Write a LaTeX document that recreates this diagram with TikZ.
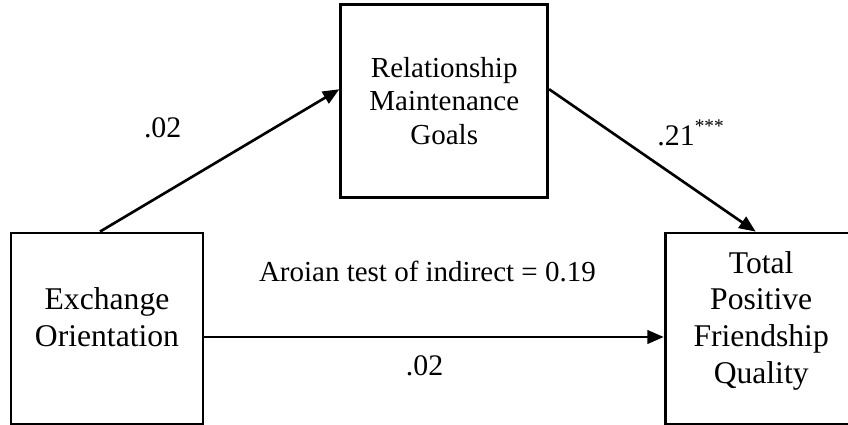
\documentclass[tikz,border=0pt]{standalone}
\usepackage{fontspec}
\setmainfont{Liberation Serif}
\usetikzlibrary{positioning, arrows.meta, calc}

\begin{document}
\begin{tikzpicture}[x=0.02cm, y=-0.02cm, >={Triangle[length=0.33cm, width=0.27cm]},
  box/.style={draw, line width=1.6pt, align=center, inner sep=0pt},
  sidebox/.style={box, minimum width=3.84cm, minimum height=3.82cm, text depth=0.45cm, font=\fontsize{18}{20.9}\selectfont},
  midbox/.style={box, minimum width=4.14cm, minimum height=3.86cm, font=\fontsize{16.5}{19}\selectfont},
  lbl/.style={anchor=base, inner sep=0pt, font=\fontsize{17}{20}\selectfont},
  arr/.style={->, line width=1.5pt}]
  \useasboundingbox (0,0) rectangle (848,425);

  \node[sidebox] (exch) at (107,328.5) {Exchange\\Orientation};
  \node[midbox, above right=0.66cm and 2.7cm of exch] (rel) {Relationship\\Maintenance\\Goals};
  \node[sidebox, right=9.19cm of exch] (fpq) {Total\\Positive\\Friendship\\Quality};

  \draw[arr] ([xshift=-0.14cm]exch.north) -- node[lbl, xshift=-1.14cm, yshift=0.45cm] {.02} ([yshift=0.23cm]rel.west);
  \draw[arr] ([yshift=0.23cm]rel.east) -- node[lbl, anchor=base west, xshift=0.074cm, yshift=0.29cm] {.21\raisebox{0.27cm}{\fontsize{11}{11}\selectfont ***}} ([xshift=-0.11cm]fpq.north);
  \draw[arr] ([yshift=-0.17cm]exch.east) -- node[lbl, font=\fontsize{16.5}{19}\selectfont, xshift=-0.134cm, yshift=1.106cm] {Aroian test of indirect = 0.19} node[lbl, xshift=-0.19cm, yshift=-0.78cm] {.02} ([yshift=-0.17cm]fpq.west);
\end{tikzpicture}
\end{document}
